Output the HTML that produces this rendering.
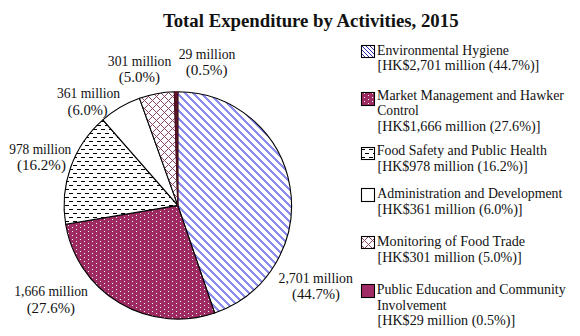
<!DOCTYPE html>
<html><head><meta charset="utf-8"><style>
html,body{margin:0;padding:0;background:#fff;}
svg{display:block;}
text{white-space:pre;font-family:"Liberation Serif",serif;fill:#111;}
</style></head><body>
<svg width="580" height="336" viewBox="0 0 580 336">
<defs>
<pattern id="pEnv" patternUnits="userSpaceOnUse" x="0" y="0" width="8" height="8">
<g shape-rendering="crispEdges" fill="#8c8cf0">
<rect x="3" y="0" width="3" height="1"/><rect x="4" y="1" width="3" height="1"/><rect x="5" y="2" width="3" height="1"/>
<rect x="6" y="3" width="2" height="1"/><rect x="0" y="3" width="1" height="1"/>
<rect x="7" y="4" width="1" height="1"/><rect x="0" y="4" width="2" height="1"/>
<rect x="0" y="5" width="3" height="1"/><rect x="1" y="6" width="3" height="1"/><rect x="2" y="7" width="3" height="1"/>
</g></pattern>
<pattern id="pMkt" patternUnits="userSpaceOnUse" x="0" y="0" width="8" height="4">
<g shape-rendering="crispEdges"><rect x="0" y="0" width="8" height="4" fill="#9e2a62"/>
<rect x="4" y="1" width="1" height="1" fill="#fff"/><rect x="0" y="3" width="1" height="1" fill="#fff"/></g>
</pattern>
<pattern id="pFood" patternUnits="userSpaceOnUse" x="0" y="0" width="8" height="8">
<g shape-rendering="crispEdges"><rect x="0" y="0" width="8" height="8" fill="#fff"/>
<rect x="5" y="1" width="3" height="1" fill="#000"/><rect x="0" y="1" width="1" height="1" fill="#000"/>
<rect x="1" y="5" width="4" height="1" fill="#000"/></g>
</pattern>
<pattern id="pMon" patternUnits="userSpaceOnUse" x="0" y="0" width="8" height="8">
<g shape-rendering="crispEdges" fill="#8a4266"><rect x="0" y="0" width="8" height="8" fill="#fff"/>
<rect x="4" y="0" width="1" height="1"/><rect x="5" y="1" width="1" height="1"/><rect x="6" y="2" width="1" height="1"/><rect x="7" y="3" width="1" height="1"/>
<rect x="0" y="4" width="1" height="1"/><rect x="1" y="5" width="1" height="1"/><rect x="2" y="6" width="1" height="1"/><rect x="3" y="7" width="1" height="1"/>
<rect x="3" y="1" width="1" height="1"/><rect x="2" y="2" width="1" height="1"/><rect x="1" y="3" width="1" height="1"/>
<rect x="7" y="5" width="1" height="1"/><rect x="6" y="6" width="1" height="1"/><rect x="5" y="7" width="1" height="1"/>
</g></pattern>
<pattern id="lEnv" patternUnits="userSpaceOnUse" x="0" y="0" width="4" height="4">
<g shape-rendering="crispEdges" fill="#3030b0"><rect x="0" y="0" width="4" height="4" fill="#fff"/>
<rect x="0" y="0" width="1" height="1"/><rect x="1" y="1" width="1" height="1"/><rect x="2" y="2" width="1" height="1"/><rect x="3" y="3" width="1" height="1"/></g>
</pattern>
<pattern id="lMkt" patternUnits="userSpaceOnUse" x="0" y="0" width="8" height="4">
<g shape-rendering="crispEdges"><rect x="0" y="0" width="8" height="4" fill="#9e2a62"/>
<rect x="4" y="1" width="1" height="1" fill="#fff"/><rect x="0" y="3" width="1" height="1" fill="#fff"/></g>
</pattern>
<pattern id="lFood" patternUnits="userSpaceOnUse" x="0" y="0" width="8" height="8">
<g shape-rendering="crispEdges"><rect x="0" y="0" width="8" height="8" fill="#fff"/>
<rect x="5" y="1" width="3" height="1" fill="#000"/><rect x="0" y="1" width="1" height="1" fill="#000"/>
<rect x="1" y="5" width="4" height="1" fill="#000"/></g>
</pattern>
<pattern id="lMon" patternUnits="userSpaceOnUse" x="0" y="0" width="8" height="8">
<g shape-rendering="crispEdges" fill="#8a4266"><rect x="0" y="0" width="8" height="8" fill="#fff"/>
<rect x="4" y="0" width="1" height="1"/><rect x="5" y="1" width="1" height="1"/><rect x="6" y="2" width="1" height="1"/><rect x="7" y="3" width="1" height="1"/>
<rect x="0" y="4" width="1" height="1"/><rect x="1" y="5" width="1" height="1"/><rect x="2" y="6" width="1" height="1"/><rect x="3" y="7" width="1" height="1"/>
<rect x="3" y="1" width="1" height="1"/><rect x="2" y="2" width="1" height="1"/><rect x="1" y="3" width="1" height="1"/>
<rect x="7" y="5" width="1" height="1"/><rect x="6" y="6" width="1" height="1"/><rect x="5" y="7" width="1" height="1"/>
</g></pattern>
</defs>
<path d="M177.8,205.4 L177.80,91.70 A113.7,113.7 0 0 1 214.64,312.97 Z" fill="url(#pEnv)" stroke="#000" stroke-width="1.1" stroke-linejoin="round"/>
<path d="M177.8,205.4 L214.64,312.97 A113.7,113.7 0 0 1 65.67,224.25 Z" fill="url(#pMkt)" stroke="#000" stroke-width="1.1" stroke-linejoin="round"/>
<path d="M177.8,205.4 L65.67,224.25 A113.7,113.7 0 0 1 102.89,119.87 Z" fill="url(#pFood)" stroke="#000" stroke-width="1.1" stroke-linejoin="round"/>
<path d="M177.8,205.4 L102.89,119.87 A113.7,113.7 0 0 1 139.51,98.34 Z" fill="#ffffff" stroke="#000" stroke-width="1.1" stroke-linejoin="round"/>
<path d="M177.8,205.4 L139.51,98.34 A113.7,113.7 0 0 1 174.37,91.75 Z" fill="url(#pMon)" stroke="#000" stroke-width="1.1" stroke-linejoin="round"/>
<path d="M177.8,205.4 L174.37,91.75 A113.7,113.7 0 0 1 177.80,91.70 Z" fill="#5e1428" stroke="#4e0e20" stroke-width="1.1" stroke-linejoin="round"/>
<rect x="361.5" y="45.5" width="13" height="12" fill="url(#lEnv)" stroke="#000" stroke-width="1.1"/>
<rect x="361.5" y="92.5" width="13" height="13" fill="url(#lMkt)" stroke="#000" stroke-width="1.1"/>
<rect x="361.5" y="147.5" width="13" height="12" fill="url(#pFood)" stroke="#000" stroke-width="1.1"/>
<rect x="361.5" y="188.5" width="13" height="13" fill="#fff" stroke="#000" stroke-width="1.1"/>
<rect x="361.5" y="236.5" width="13" height="12" fill="url(#pMon)" stroke="#000" stroke-width="1.1"/>
<rect x="361.5" y="284.5" width="13" height="13" fill="#a02c66" stroke="#000" stroke-width="1.1"/>
<text x="162.94" y="27" font-size="18" font-weight="bold" textLength="295.58" lengthAdjust="spacingAndGlyphs">Total Expenditure by Activities, 2015</text>
<text x="178.71" y="58.6" font-size="14" textLength="56.69" lengthAdjust="spacingAndGlyphs">29 million</text>
<text x="185.66" y="75" font-size="14" textLength="41.89" lengthAdjust="spacingAndGlyphs">(0.5%)</text>
<text x="107.87" y="65.6" font-size="14" textLength="63.43" lengthAdjust="spacingAndGlyphs">301 million</text>
<text x="118.76" y="82.4" font-size="14" textLength="41.27" lengthAdjust="spacingAndGlyphs">(5.0%)</text>
<text x="56.97" y="97.8" font-size="14" textLength="63.13" lengthAdjust="spacingAndGlyphs">361 million</text>
<text x="67.58" y="114.5" font-size="14" textLength="40.14" lengthAdjust="spacingAndGlyphs">(6.0%)</text>
<text x="9.22" y="154" font-size="14" textLength="62.07" lengthAdjust="spacingAndGlyphs">978 million</text>
<text x="16.96" y="170.4" font-size="14" textLength="48.98" lengthAdjust="spacingAndGlyphs">(16.2%)</text>
<text x="14.28" y="295.6" font-size="14" textLength="73.62" lengthAdjust="spacingAndGlyphs">1,666 million</text>
<text x="26.67" y="312.7" font-size="14" textLength="48.36" lengthAdjust="spacingAndGlyphs">(27.6%)</text>
<text x="278.51" y="282.9" font-size="14" textLength="74.39" lengthAdjust="spacingAndGlyphs">2,701 million</text>
<text x="292.07" y="298.8" font-size="14" textLength="47.95" lengthAdjust="spacingAndGlyphs">(44.7%)</text>
<text x="377.05" y="54.5" font-size="14" textLength="131.93" lengthAdjust="spacingAndGlyphs">Environmental Hygiene</text>
<text x="377.49" y="70.4" font-size="14" textLength="161.79" lengthAdjust="spacingAndGlyphs">[HK$2,701 million (44.7%)]</text>
<text x="377.05" y="99.7" font-size="14" textLength="186.89" lengthAdjust="spacingAndGlyphs">Market Management and Hawker</text>
<text x="377.31" y="115.2" font-size="14" textLength="41.56" lengthAdjust="spacingAndGlyphs">Control</text>
<text x="377.49" y="130.6" font-size="14" textLength="162.91" lengthAdjust="spacingAndGlyphs">[HK$1,666 million (27.6%)]</text>
<text x="376.81" y="154.5" font-size="14" textLength="170.02" lengthAdjust="spacingAndGlyphs">Food Safety and Public Health</text>
<text x="377.5" y="170.7" font-size="14" textLength="150.08" lengthAdjust="spacingAndGlyphs">[HK$978 million (16.2%)]</text>
<text x="377.3" y="197.6" font-size="14" textLength="185.07" lengthAdjust="spacingAndGlyphs">Administration and Development</text>
<text x="377.49" y="213.9" font-size="14" textLength="145.11" lengthAdjust="spacingAndGlyphs">[HK$361 million (6.0%)]</text>
<text x="377.05" y="245.6" font-size="14" textLength="147.93" lengthAdjust="spacingAndGlyphs">Monitoring of Food Trade</text>
<text x="377.5" y="261.9" font-size="14" textLength="144.19" lengthAdjust="spacingAndGlyphs">[HK$301 million (5.0%)]</text>
<text x="376.8" y="293.9" font-size="14" textLength="188.85" lengthAdjust="spacingAndGlyphs">Public Education and Community</text>
<text x="377.11" y="309.7" font-size="14" textLength="69.51" lengthAdjust="spacingAndGlyphs">Involvement</text>
<text x="377.49" y="324.6" font-size="14" textLength="137.7" lengthAdjust="spacingAndGlyphs">[HK$29 million (0.5%)]</text>
</svg>
</body></html>
